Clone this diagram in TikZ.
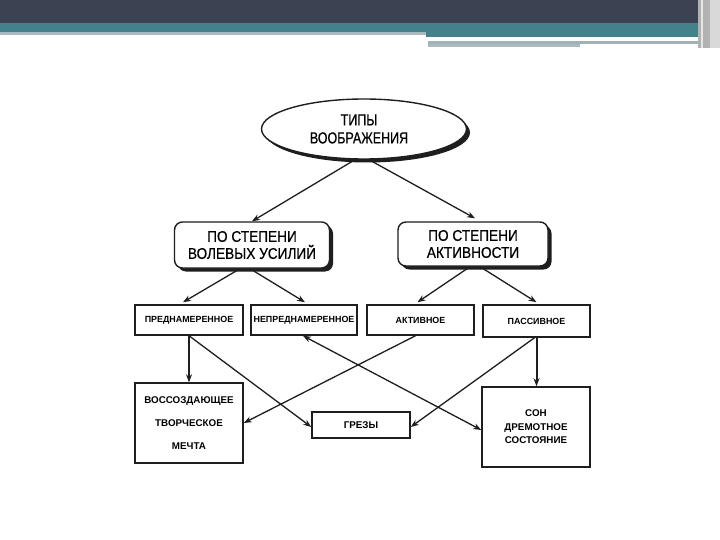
\documentclass[tikz,border=0pt]{standalone}
\usepackage{fontspec}
\setmainfont{Liberation Sans}
\newfontfamily\condA[FakeStretch=0.78,FakeBold=0.6]{Liberation Sans}
\newfontfamily\condB[FakeStretch=0.88,FakeBold=0.6]{Liberation Sans}
\usetikzlibrary{shapes.geometric,shadows,arrows.meta,calc}
\definecolor{hdark}{HTML}{3D4253}
\definecolor{hteal}{HTML}{44828B}
\definecolor{hlight}{HTML}{A9B9BE}
\definecolor{hgrey}{HTML}{9FB3B6}
\definecolor{ink}{HTML}{1E1E1E}
\tikzset{
  shad/.style={drop shadow={shadow xshift=3.5pt,shadow yshift=-3.5pt,fill=ink,opacity=1}},
  topell/.style={ellipse,draw=ink,line width=1.4pt,fill=white,shad,minimum width=205pt,minimum height=60pt,inner sep=0pt,align=center,font=\condA\fontsize{16}{18}\selectfont},
  rbox/.style={rectangle,rounded corners=8pt,draw=ink,line width=1.4pt,fill=white,shad,inner sep=0pt,align=center,font=\condB\fontsize{15.5}{17}\selectfont},
  sbox/.style={rectangle,draw=ink,line width=1.5pt,fill=white,inner sep=0pt,align=center,font=\bfseries\fontsize{8.9}{10}\selectfont},
  bbox/.style={rectangle,draw=ink,line width=1.5pt,fill=white,inner sep=0pt,align=center,font=\bfseries\fontsize{9.8}{11}\selectfont},
  arr/.style={draw=ink,line width=1.3pt,-{Stealth[length=8pt,width=6pt]}},
}
\begin{document}
\begin{tikzpicture}[x=1pt,y=-1pt]
\useasboundingbox (0,0) rectangle (720,540);
% header
\fill[white] (0,0) rectangle (720,540);
\fill[hdark] (0,0) rectangle (720,23);
\fill[hteal] (0,23) rectangle (720,32);
\fill[hlight] (0,32) rectangle (426,35);
\fill[hteal] (426,32) rectangle (698,37);
\fill[white] (428,37) rectangle (668,41);
\fill[hgrey] (428,41) rectangle (698,44);
\fill[hlight] (428,44) rectangle (580,47);
\fill[gray!60] (698,0) rectangle (710,48);
\fill[gray!30] (710,0) rectangle (720,48);
\fill[white!80!gray] (701,0) rectangle (703,48);

% nodes
\node[topell] (E) at (364,129) {\hspace*{-10pt}ТИПЫ\\\hspace*{-10pt}ВООБРАЖЕНИЯ};
\node[rbox,minimum width=155pt,minimum height=46pt] (L) at (252,245) {ПО СТЕПЕНИ\\ВОЛЕВЫХ УСИЛИЙ};
\node[rbox,minimum width=150pt,minimum height=44pt] (R) at (473,244) {ПО СТЕПЕНИ\\АКТИВНОСТИ};

\node[sbox,minimum width=108pt,minimum height=30pt] (P1) at (189,320) {ПРЕДНАМЕРЕННОЕ};
\node[sbox,minimum width=106pt,minimum height=30pt] (P2) at (304,320) {НЕПРЕДНАМЕРЕННОЕ};
\node[sbox,minimum width=107pt,minimum height=30pt] (P3) at (420.5,320) {АКТИВНОЕ};
\node[sbox,minimum width=107pt,minimum height=32pt] (P4) at (536.5,321) {ПАССИВНОЕ};

\node[bbox,minimum width=108pt,minimum height=80pt,font=\bfseries\fontsize{9.8}{23}\selectfont] (B1) at (189,423) {ВОССОЗДАЮЩЕЕ\\ТВОРЧЕСКОЕ\\МЕЧТА};
\node[bbox,minimum width=98pt,minimum height=26pt] (G) at (361,425) {ГРЕЗЫ};
\node[bbox,minimum width=108pt,minimum height=80pt,font=\bfseries\fontsize{9.8}{13.5}\selectfont] (B3) at (536,427) {СОН\\ДРЕМОТНОЕ\\СОСТОЯНИЕ};

% connectors
\draw[arr] ($(E.south)+(-9,0)$) -- (L.north);
\draw[arr] ($(E.south)+(5,0)$) -- ($(R.north)+(2,-3)$);
\draw[arr] ($(L.south)+(-12,0)$) -- ($(P1.north)+(-6,-2)$);
\draw[arr] ($(L.south)+(-2,0)$) -- ($(P2.north)+(1,-2)$);
\draw[arr] ($(R.south)+(-3,0)$) -- ($(P3.north)+(-3,-2)$);
\draw[arr] ($(R.south)+(7,0)$) -- ($(P4.north)+(0,-2)$);

\draw[arr] (P1.south) -- (B1.north);
\draw[arr] (P1.south) -- ($(G.west)+(0,2)$);
\draw[arr,{Stealth[length=8pt,width=6pt]}-{Stealth[length=8pt,width=6pt]}] ($(P2.south)+(-1,0)$) -- ($(B3.west)+(0,3)$);
\draw[arr] ($(P3.south)+(-5,0)$) -- (B1.east);
\draw[arr] ($(P4.south)+(-2,0)$) -- ($(G.east)+(0,2)$);
\draw[arr,line width=2pt] (P4.south) -- (P4.south |- B3.north);
\end{tikzpicture}
\end{document}
